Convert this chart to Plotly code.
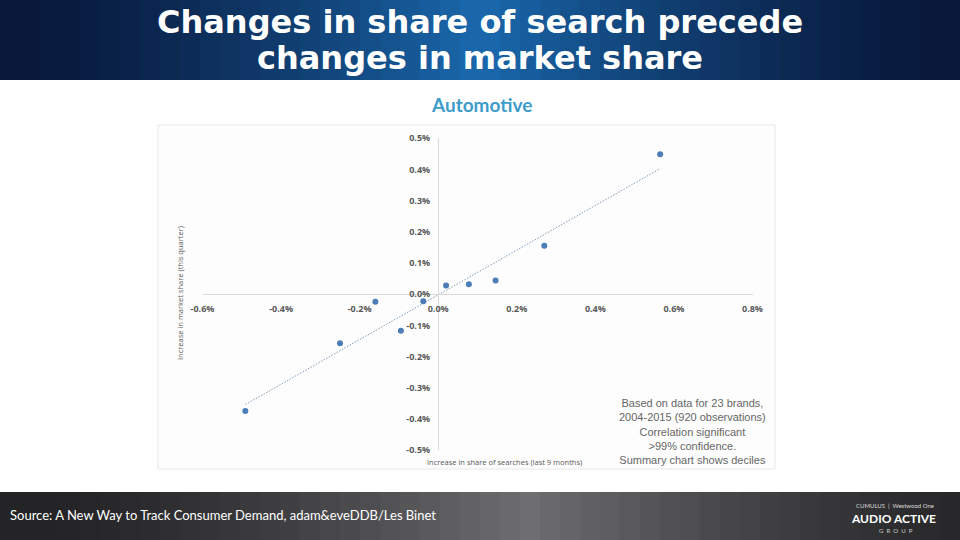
import numpy as np
import plotly.graph_objects as go

# deciles: change in share of searches (last 9 months) vs change in market share (this quarter), in %
search_change = [-0.491, -0.250, -0.160, -0.095, -0.038, 0.020, 0.078, 0.146, 0.270, 0.565]
market_change = [-0.374, -0.157, -0.024, -0.117, -0.022, 0.028, 0.032, 0.044, 0.156, 0.449]

x_ticks = [-0.6, -0.4, -0.2, 0.0, 0.2, 0.4, 0.6, 0.8]
x_tick_text = ["-0.6%", "-0.4%", "-0.2%", "0.0%", "0.2%", "0.4%", "0.6%", "0.8%"]
y_ticks = [-0.5, -0.4, -0.3, -0.2, -0.1, 0.0, 0.1, 0.2, 0.3, 0.4, 0.5]
y_tick_text = ["-0.5%", "-0.4%", "-0.3%", "-0.2%", "-0.1%", "0.0%",
               "0.1%", "0.2%", "0.3%", "0.4%", "0.5%"]

W, H = 960, 540


def px_x(v):
    return v / W


def px_y(v):
    # pixel from top -> paper fraction from bottom
    return 1 - v / H


def mix(c1, c2, t):
    return "rgb({},{},{})".format(*[round(a + (b - a) * t) for a, b in zip(c1, c2)])


def label(text, x, y, font, xanchor="center", **kw):
    # text placed by pixel centre, anchors fixed so 'auto' doesn't move it
    return dict(text=text, x=px_x(x), y=px_y(y), xref="paper", yref="paper",
                showarrow=False, xanchor=xanchor, yanchor="middle", font=font, **kw)


# linear trend (least squares, like Excel's trendline)
slope, icpt = np.polyfit(search_change, market_change, 1)
tx = [min(search_change), max(search_change)]
ty = [slope * v + icpt for v in tx]

fig = go.Figure()
fig.add_trace(go.Scatter(
    x=tx, y=ty, mode="lines",
    line=dict(color="#7f9dba", width=1, dash="1.5px,1.5px"),
    hoverinfo="skip", showlegend=False,
))
fig.add_trace(go.Scatter(
    x=search_change, y=market_change, mode="markers",
    marker=dict(color="#4d7db6", size=6),
    showlegend=False,
))

shapes = []
# title bar: dark navy at the edges, brighter blue in the middle
n = 48
for i in range(n):
    t = 1 - abs((i + 0.5) / n - 0.5) * 2
    shapes.append(dict(type="rect", xref="paper", yref="paper",
                       x0=i / n, x1=(i + 1) / n + 0.001, y0=px_y(80), y1=1,
                       fillcolor=mix((8, 24, 58), (26, 104, 174), t ** 1.5),
                       line_width=0, layer="below"))
# footer bar: dark grey with a lighter middle
for i in range(n):
    t = 1 - abs((i + 0.5) / n - 0.55) * 2
    t = max(t, 0)
    shapes.append(dict(type="rect", xref="paper", yref="paper",
                       x0=i / n, x1=(i + 1) / n + 0.001, y0=0, y1=px_y(492),
                       fillcolor=mix((36, 36, 38), (110, 110, 112), t ** 1.4),
                       line_width=0, layer="below"))
# faint chart panel
shapes.append(dict(type="rect", xref="paper", yref="paper",
                   x0=px_x(158), x1=px_x(775), y0=px_y(469), y1=px_y(125),
                   fillcolor="#fdfdfd", line=dict(color="#e8e8e8", width=1),
                   layer="below"))

title_font = dict(family="DejaVu Sans", size=32, color="white", weight="bold")
small_grey = dict(family="Open Sans", size=7.5, color="#595959")
annotations = [
    label("Changes in share of search precede", 480, 22, title_font),
    label("changes in market share", 480, 58, title_font),
    label("Automotive", 481, 104, dict(family="Lato", size=19, color="#3d9cc9", weight="bold")),
    label("Increase in market share (this quarter)", 180, 293, small_grey, textangle=-90),
    label("Increase in share of searches (last 9 months)", 505, 462, small_grey),
    label("Based on data for 23 brands,<br>2004-2015 (920 observations)<br>"
          "Correlation significant<br>&gt;99% confidence.<br>Summary chart shows deciles",
          692, 431, dict(family="Liberation Sans", size=11, color="#666666"), align="center"),
    label("Source: A New Way to Track Consumer Demand, adam&amp;eveDDB/Les Binet",
          8, 515, dict(family="Lato", size=13, color="white"), xanchor="left"),
    label("CUMULUS  |  Westwood One", 895, 505, dict(family="Lato", size=6, color="#dddddd")),
    label("AUDIO ACTIVE", 893, 518, dict(family="Lato", size=12, color="white", weight="bold")),
    label("G  R  O  U  P", 896, 530, dict(family="Lato", size=6, color="#cccccc")),
]

tick_font = dict(family="Open Sans", size=9, color="#595959", weight="bold")

fig.update_layout(
    width=W, height=H,
    margin=dict(l=0, r=0, t=0, b=0),
    paper_bgcolor="white",
    plot_bgcolor="rgba(0,0,0,0)",
    shapes=shapes,
    annotations=annotations,
    xaxis=dict(
        range=[-0.6, 0.8], domain=[px_x(202.5), px_x(752.5)],
        anchor="free", position=px_y(294.3), automargin=False,
        tickvals=x_ticks, ticktext=x_tick_text, tickfont=tick_font,
        ticks="", ticklabelstandoff=6,
        showline=True, linecolor="#d9d9d9", linewidth=1,
        showgrid=False, zeroline=False,
    ),
    yaxis=dict(
        range=[-0.5, 0.5], domain=[px_y(450.3), px_y(138.3)],
        anchor="free", position=px_x(438), automargin=False,
        tickvals=y_ticks, ticktext=y_tick_text, tickfont=tick_font,
        ticks="", ticklabelstandoff=6,
        showline=True, linecolor="#d9d9d9", linewidth=1,
        showgrid=False, zeroline=False,
    ),
)

# the slide runs edge to edge, so drop the page's default body margin
fig.write_html("out.html", config={"displayModeBar": False},
               post_script="document.body.style.margin='0';")
